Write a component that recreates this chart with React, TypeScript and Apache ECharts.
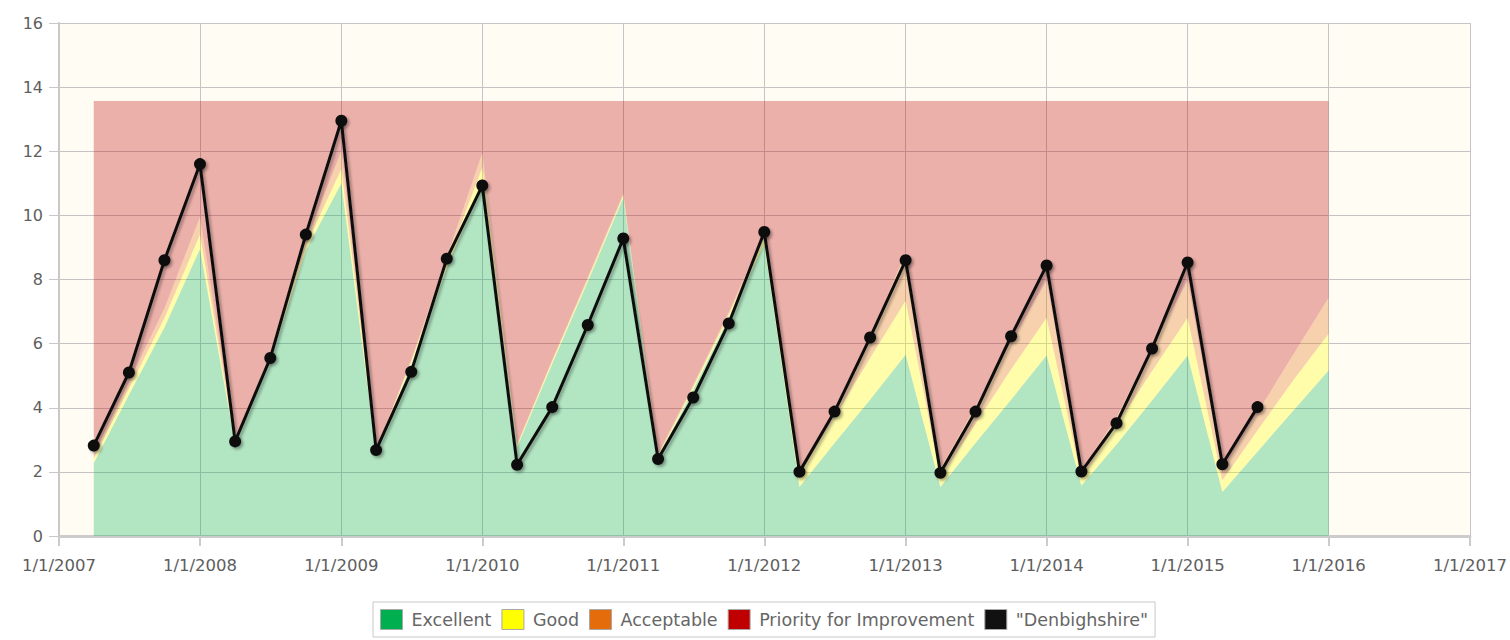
import React, { useEffect, useRef } from "react";
import * as echarts from "echarts";

const thresholdDates = [
  "2007-04-01", "2007-07-01", "2007-10-01", "2008-01-01",
  "2008-04-01", "2008-07-01", "2008-10-01", "2009-01-01",
  "2009-04-01", "2009-07-01", "2009-10-01", "2010-01-01",
  "2010-04-01", "2010-07-01", "2010-10-01", "2011-01-01",
  "2011-04-01", "2011-07-01", "2011-10-01", "2012-01-01",
  "2012-04-01", "2012-07-01", "2012-10-01", "2013-01-01",
  "2013-04-01", "2013-07-01", "2013-10-01", "2014-01-01",
  "2014-04-01", "2014-07-01", "2014-10-01", "2015-01-01",
  "2015-04-01", "2015-07-01", "2015-10-01", "2016-01-01",
];

const excellentUpper = [
  2.27, 4.4, 6.5, 8.95,
  2.85, 5.5, 8.9, 11.0,
  2.6, 5.35, 8.35, 11.05,
  2.77, 5.37, 7.93, 10.55,
  2.45, 4.55, 6.8, 9.1,
  1.53, 2.9, 4.25, 5.65,
  1.53, 2.9, 4.25, 5.63,
  1.57, 2.85, 4.23, 5.63,
  1.37, 2.63, 3.9, 5.16,
];

const goodUpper = [
  2.42, 4.6, 6.8, 9.4,
  2.9, 5.6, 9.05, 11.45,
  2.65, 5.45, 8.55, 11.5,
  2.82, 5.45, 8.0, 10.62,
  2.5, 4.65, 6.9, 9.3,
  1.9, 3.7, 5.55, 7.34,
  1.84, 3.5, 5.2, 6.81,
  1.8, 3.45, 5.15, 6.81,
  1.74, 3.3, 4.85, 6.31,
];

const acceptableUpper = [
  2.55, 4.8, 7.1, 9.95,
  2.95, 5.7, 9.2, 12.0,
  2.7, 5.5, 8.7, 11.95,
  2.87, 5.5, 8.07, 10.68,
  2.55, 4.72, 6.98, 9.45,
  2.05, 3.95, 6.2, 8.85,
  2.1, 4.05, 6.05, 7.96,
  2.05, 3.7, 5.9, 7.96,
  2.05, 3.85, 5.65, 7.43,
];

const priorityUpper = [
  13.57, 13.57, 13.57, 13.57,
  13.57, 13.57, 13.57, 13.57,
  13.57, 13.57, 13.57, 13.57,
  13.57, 13.57, 13.57, 13.57,
  13.57, 13.57, 13.57, 13.57,
  13.57, 13.57, 13.57, 13.57,
  13.57, 13.57, 13.57, 13.57,
  13.57, 13.57, 13.57, 13.57,
  13.57, 13.57, 13.57, 13.57,
];

const lineDates = [
  "2007-04-01", "2007-07-01", "2007-10-01", "2008-01-01",
  "2008-04-01", "2008-07-01", "2008-10-01", "2009-01-01",
  "2009-04-01", "2009-07-01", "2009-10-01", "2010-01-01",
  "2010-04-01", "2010-07-01", "2010-10-01", "2011-01-01",
  "2011-04-01", "2011-07-01", "2011-10-01", "2012-01-01",
  "2012-04-01", "2012-07-01", "2012-10-01", "2013-01-01",
  "2013-04-01", "2013-07-01", "2013-10-01", "2014-01-01",
  "2014-04-01", "2014-07-01", "2014-10-01", "2015-01-01",
  "2015-04-01", "2015-07-01",
];

const denbighshire = [
  2.82, 5.1, 8.6, 11.6,
  2.95, 5.55, 9.4, 12.95,
  2.68, 5.12, 8.65, 10.93,
  2.22, 4.02, 6.58, 9.28,
  2.4, 4.32, 6.63, 9.48,
  2.0, 3.88, 6.19, 8.6,
  1.97, 3.88, 6.23, 8.44,
  2.01, 3.52, 5.85, 8.53,
  2.24, 4.02,
];

const bandNames = ["Excellent", "Good", "Acceptable", "Priority for Improvement"];
const bandColors = ["#00b050", "#ffff00", "#e46c0a", "#c00000"];
const lineName = '"Denbighshire"';

export default function App() {
  const ref = useRef<HTMLDivElement>(null);

  useEffect(() => {
    document.body.style.margin = "0";
    if (!ref.current) return;
    const chart = echarts.init(ref.current, undefined, { renderer: "svg" });

    const uppers = [excellentUpper, goodUpper, acceptableUpper, priorityUpper];
    const bandSeries = uppers.map((upper, k) => ({
      name: bandNames[k],
      type: "line",
      stack: "bands",
      symbol: "none",
      showSymbol: false,
      silent: true,
      z: 1,
      lineStyle: { width: 0 },
      itemStyle: { color: bandColors[k] },
      areaStyle: { color: bandColors[k], opacity: 0.3 },
      emphasis: { disabled: true },
      data: thresholdDates.map((d, i) => [
        d,
        +(upper[i] - (k === 0 ? 0 : uppers[k - 1][i])).toFixed(3),
      ]),
    }));

    const axisFont = { fontFamily: "DejaVu Sans", color: "#5e5e5e" };

    chart.setOption({
      animation: false,
      backgroundColor: "#ffffff",
      grid: {
        left: 59,
        right: 40,
        top: 23,
        bottom: 104,
        show: true,
        backgroundColor: "#fffcf4",
        borderWidth: 0,
      },
      legend: {
        left: 373,
        top: 602,
        icon: "rect",
        itemWidth: 22,
        itemHeight: 20,
        itemGap: 10,
        padding: [7, 7, 7, 7],
        borderColor: "#c8c8c8",
        borderWidth: 1,
        backgroundColor: "#ffffff",
        itemStyle: { borderColor: "#a8a8a8", borderWidth: 1 },
        textStyle: { fontFamily: "DejaVu Sans", fontSize: 17.5, color: "#666666", padding: [0, 0, 0, 4] },
        data: [...bandNames, lineName],
      },
      xAxis: {
        type: "time",
        min: "2007-01-01",
        max: "2017-01-01",
        splitNumber: 10,
        minInterval: 365 * 24 * 3600 * 1000,
        maxInterval: 366 * 24 * 3600 * 1000,
        axisLine: { show: true, lineStyle: { color: "#cccccc", width: 3 } },
        axisTick: { show: true, length: 10, lineStyle: { color: "#cccccc", width: 2 } },
        splitLine: { show: true, lineStyle: { color: "#c4c4c4", width: 1 } },
        axisLabel: {
          ...axisFont,
          fontSize: 16.5,
          margin: 21,
          showMinLabel: true,
          showMaxLabel: true,
          hideOverlap: false,
          formatter: (v: number) => {
            const d = new Date(v);
            return `${d.getMonth() + 1}/${d.getDate()}/${d.getFullYear()}`;
          },
        },
      },
      yAxis: {
        type: "value",
        min: 0,
        max: 16,
        interval: 2,
        axisLine: { show: true, lineStyle: { color: "#c8c8c8", width: 2 } },
        axisTick: { show: true, length: 10, lineStyle: { color: "#c8c8c8", width: 1 } },
        splitLine: { show: true, lineStyle: { color: "#c4c4c4", width: 1 } },
        axisLabel: { ...axisFont, fontSize: 16, margin: 16 },
      },
      series: [
        ...bandSeries,
        {
          name: lineName,
          type: "line",
          z: 5,
          symbol: "circle",
          symbolSize: 12,
          showSymbol: true,
          lineStyle: {
            color: "#111111",
            width: 3,
            shadowColor: "rgba(0,0,0,0.35)",
            shadowBlur: 3,
            shadowOffsetX: 2,
            shadowOffsetY: 2,
          },
          itemStyle: {
            color: "#111111",
            shadowColor: "rgba(0,0,0,0.35)",
            shadowBlur: 3,
            shadowOffsetX: 2,
            shadowOffsetY: 2,
          },
          emphasis: { disabled: true },
          data: lineDates.map((d, i) => [d, denbighshire[i]]),
        },
      ],
    });

    return () => chart.dispose();
  }, []);

  return <div ref={ref} style={{ width: 1510, height: 640 }} />;
}
